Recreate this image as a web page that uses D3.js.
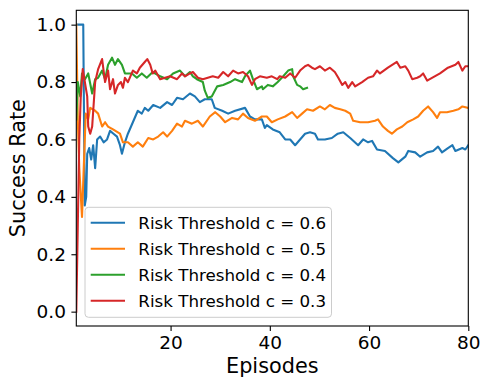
<!DOCTYPE html>
<html>
<head>
<meta charset="utf-8">
<script src="https://cdn.jsdelivr.net/npm/d3@7"></script>
<style>
html,body{margin:0;padding:0;background:#fff;}
svg{display:block;font-family:"DejaVu Sans",sans-serif;}
</style>
</head>
<body>
<svg id="chart" width="490" height="390"></svg>
<script>
// ---- data (episode, success rate) ----
const seriesLabels = ["Risk Threshold c = 0.6","Risk Threshold c = 0.5","Risk Threshold c = 0.4","Risk Threshold c = 0.3"];
const seriesColors = ["#1f77b4","#ff7f0e","#2ca02c","#d62728"];
const xTicks = [20,40,60,80];
const yTicks = [0,0.2,0.4,0.6,0.8,1.0];

const c06 = [[1,1.0],[2.4,1.0],[2.7,0.37],[3.0,0.40],[3.2,0.55],[3.6,0.57],[4.0,0.53],[4.4,0.58],[4.8,0.50],[5.2,0.60],[5.8,0.61],[6.5,0.59],[7.2,0.60],[7.8,0.63],[8.5,0.62],[9.2,0.61],[9.8,0.58],[10.2,0.55],[10.8,0.59],[11.4,0.62],[12.4,0.66],[13.4,0.70],[14.2,0.69],[14.8,0.71],[15.5,0.70],[16.5,0.72],[17.9,0.71],[19.3,0.73],[20.3,0.72],[21.3,0.745],[22.5,0.74],[23.9,0.76],[24.9,0.75],[25.9,0.73],[26.9,0.74],[28.3,0.74],[28.9,0.71],[30.4,0.70],[31.6,0.69],[33.0,0.70],[35.0,0.71],[36.0,0.68],[37.0,0.67],[38.4,0.67],[39.0,0.64],[39.4,0.65],[40.6,0.635],[42.0,0.625],[43.1,0.60],[44.1,0.60],[45.1,0.58],[46.1,0.60],[47.1,0.62],[48.1,0.625],[49.1,0.62],[49.7,0.60],[51.1,0.60],[52.5,0.605],[53.7,0.62],[54.8,0.625],[56.2,0.605],[57.8,0.58],[58.8,0.60],[59.8,0.59],[60.6,0.595],[61.6,0.565],[63.2,0.56],[64.8,0.535],[65.9,0.52],[67.3,0.54],[67.9,0.56],[69.3,0.555],[70.3,0.54],[71.7,0.555],[72.9,0.56],[73.9,0.575],[74.7,0.555],[75.9,0.57],[76.8,0.58],[77.4,0.56],[78.8,0.57],[79.4,0.565],[80,0.58]];

const c05 = [[1,1.0],[1.3,0.67],[1.6,0.5],[2.15,0.33],[2.5,0.5],[2.9,0.69],[3.4,0.67],[3.8,0.71],[4.8,0.70],[5.4,0.69],[6.2,0.645],[6.8,0.66],[7.4,0.645],[8.4,0.635],[9.8,0.62],[10.4,0.59],[11.4,0.59],[12.4,0.575],[13.4,0.59],[14.4,0.575],[15.5,0.605],[16.5,0.60],[17.5,0.61],[18.5,0.625],[19.3,0.61],[20.3,0.63],[21.3,0.655],[22.3,0.645],[22.9,0.665],[24.3,0.655],[25.5,0.665],[26.5,0.645],[27.9,0.68],[29.0,0.695],[30.0,0.68],[31.0,0.66],[32.4,0.675],[33.6,0.67],[34.6,0.69],[35.6,0.675],[37.0,0.665],[38.4,0.68],[39.4,0.68],[40.4,0.66],[41.6,0.67],[43.1,0.68],[44.5,0.695],[45.5,0.675],[46.5,0.69],[47.5,0.705],[48.7,0.70],[50.1,0.715],[51.1,0.705],[52.1,0.72],[53.1,0.71],[54.2,0.705],[55.2,0.70],[56.2,0.69],[56.8,0.665],[58.2,0.66],[59.8,0.66],[61.2,0.665],[61.8,0.67],[62.8,0.645],[63.8,0.63],[64.6,0.62],[65.6,0.635],[66.7,0.645],[67.7,0.66],[68.9,0.67],[69.9,0.68],[70.9,0.70],[71.9,0.715],[72.9,0.695],[73.7,0.675],[74.3,0.695],[75.7,0.695],[77.0,0.70],[78.0,0.705],[78.8,0.715],[80,0.71]];

const c04 = [[1,0.67],[1.3,0.80],[1.8,0.75],[2.15,0.83],[2.75,0.81],[3.4,0.83],[4.2,0.76],[4.8,0.81],[5.4,0.815],[6.2,0.84],[6.8,0.81],[7.4,0.86],[8.2,0.885],[8.8,0.86],[9.4,0.88],[10.2,0.86],[10.8,0.83],[12.2,0.83],[13.2,0.815],[14.2,0.83],[15.2,0.815],[16.4,0.835],[17.9,0.82],[19.3,0.81],[20.5,0.83],[21.9,0.84],[22.9,0.82],[23.9,0.835],[24.5,0.82],[25.3,0.81],[26.5,0.80],[26.9,0.77],[27.5,0.745],[28.3,0.75],[29.4,0.785],[30.6,0.79],[32.0,0.80],[33.0,0.81],[34.4,0.80],[35.0,0.82],[36.0,0.84],[36.6,0.81],[37.4,0.775],[38.4,0.785],[38.6,0.775],[39.6,0.79],[40.6,0.785],[41.6,0.80],[42.7,0.82],[43.7,0.84],[44.5,0.845],[44.7,0.82],[45.5,0.79],[46.1,0.785],[46.7,0.775],[47.5,0.78]];

const c03 = [[1,0.0],[1.3,0.3],[1.6,0.6],[1.9,0.75],[2.3,0.845],[3.2,0.75],[3.4,0.645],[3.8,0.62],[4.2,0.645],[4.8,0.80],[5.4,0.845],[6.2,0.88],[6.8,0.80],[7.4,0.84],[7.8,0.775],[8.4,0.81],[8.8,0.76],[9.4,0.79],[10.0,0.80],[10.4,0.78],[10.8,0.815],[11.4,0.80],[12.4,0.84],[13.2,0.83],[13.8,0.85],[14.8,0.87],[15.3,0.88],[15.9,0.86],[16.4,0.83],[16.9,0.84],[17.9,0.81],[18.9,0.815],[19.9,0.82],[21.3,0.81],[22.3,0.83],[22.9,0.82],[23.9,0.83],[24.5,0.835],[25.5,0.815],[26.5,0.81],[27.5,0.815],[28.5,0.82],[29.6,0.815],[30.6,0.835],[31.6,0.82],[32.6,0.84],[33.6,0.83],[34.6,0.835],[35.6,0.82],[36.4,0.79],[37.0,0.81],[38.0,0.82],[39.4,0.815],[40.4,0.82],[41.5,0.81],[42.0,0.82],[43.1,0.815],[44.1,0.83],[45.1,0.815],[46.1,0.84],[47.1,0.855],[47.7,0.86],[48.5,0.85],[49.1,0.845],[50.1,0.855],[51.1,0.84],[52.1,0.85],[53.1,0.835],[53.8,0.815],[54.6,0.79],[55.2,0.80],[55.8,0.78],[56.6,0.80],[57.2,0.785],[58.6,0.80],[59.8,0.815],[60.8,0.82],[61.6,0.84],[62.2,0.83],[63.8,0.85],[65.6,0.87],[66.3,0.85],[67.3,0.855],[67.9,0.84],[68.7,0.81],[69.7,0.815],[70.3,0.82],[70.9,0.83],[71.7,0.805],[74.3,0.83],[75.9,0.85],[77.4,0.86],[78.0,0.87],[78.8,0.84],[79.4,0.855],[80,0.855]];

const seriesData = [c06, c05, c04, c03];

// ---- layout ----
const svg = d3.select("#chart");
const L = 76.3, R = 468.3, T = 10.3, B = 326;
const x = d3.scaleLinear().domain([1, 80]).range([L, R]);
const y = d3.scaleLinear().domain([-0.05, 1.05]).range([B, T]);

svg.append("defs").append("clipPath").attr("id","clip")
  .append("rect").attr("x",L).attr("y",T).attr("width",R-L).attr("height",B-T);

const line = d3.line().x(d => x(d[0])).y(d => y(d[1]));
const g = svg.append("g").attr("clip-path","url(#clip)");
seriesData.forEach((s,i) => {
  g.append("path").datum(s).attr("d", line)
    .attr("fill","none").attr("stroke", seriesColors[i])
    .attr("stroke-width", 2.1).attr("stroke-linejoin","round").attr("stroke-linecap","square");
});

// axes
const xAxis = svg.append("g").attr("transform",`translate(0,${B})`)
  .call(d3.axisBottom(x).tickValues(xTicks).tickFormat(d3.format("d")).tickSize(4.9).tickPadding(5).tickSizeOuter(0));
const yAxis = svg.append("g").attr("transform",`translate(${L},0)`)
  .call(d3.axisLeft(y).tickValues(yTicks).tickFormat(d3.format(".1f")).tickSize(4.9).tickPadding(5.5).tickSizeOuter(0));
[xAxis,yAxis].forEach(a => {
  a.select(".domain").remove();
  a.selectAll(".tick line").attr("stroke","#000").attr("stroke-width",1.1);
  a.selectAll(".tick text").attr("fill","#000").style("font-size","18.5px").style("font-family","DejaVu Sans");
});

// spines
svg.append("rect").attr("x",L).attr("y",T).attr("width",R-L).attr("height",B-T)
  .attr("fill","none").attr("stroke","#000").attr("stroke-width",1.1);

// labels
svg.append("text").attr("x",(L+R)/2).attr("y",373).attr("text-anchor","middle")
  .style("font-size","20.8px").attr("fill","#000").text("Episodes");
svg.append("text").attr("transform",`translate(25,${(T+B)/2}) rotate(-90)`).attr("text-anchor","middle")
  .style("font-size","20.8px").attr("fill","#000").text("Success Rate");

// legend
const lg = svg.append("g");
lg.append("rect").attr("x",85).attr("y",207.3).attr("width",246.5).attr("height",110)
  .attr("rx",3.5).attr("fill","#fff").attr("fill-opacity",0.8)
  .attr("stroke","#cccccc").attr("stroke-width",1);
seriesLabels.forEach((lab,i) => {
  const yy = 222.7 + i*26;
  lg.append("line").attr("x1",90.7).attr("x2",125).attr("y1",yy).attr("y2",yy)
    .attr("stroke",seriesColors[i]).attr("stroke-width",2.1);
  lg.append("text").attr("x",138.3).attr("y",yy).attr("dy","0.36em")
    .style("font-size","16.7px").attr("fill","#000").text(lab);
});
</script>
</body>
</html>
